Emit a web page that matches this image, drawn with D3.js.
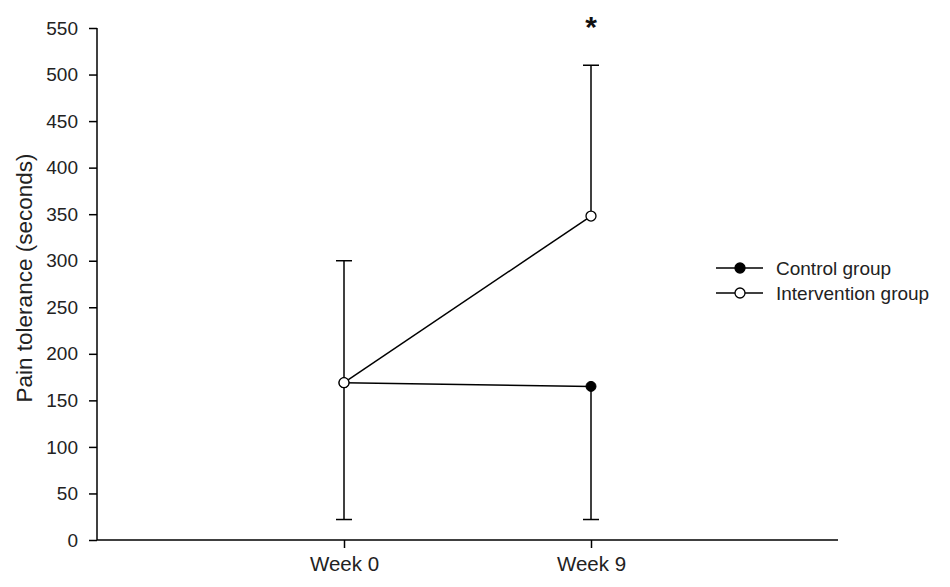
<!DOCTYPE html>
<html>
<head>
<meta charset="utf-8">
<script src="https://cdn.jsdelivr.net/npm/d3@7"></script>
<style>
  body { margin: 0; background: #fff; }
  svg { font-family: Arial, "Liberation Sans", sans-serif; }
</style>
</head>
<body>
<div id="chart"></div>
<script>
// data
var weeks = ["Week 0", "Week 9"];
var controlMean = [169, 165];
var controlLow = [22, 22];      // error bar drawn downward
var interventionMean = [169, 348];
var interventionHigh = [300, 510]; // error bar drawn upward
var yTicks = [0, 50, 100, 150, 200, 250, 300, 350, 400, 450, 500, 550];

var width = 950, height = 587;
var svg = d3.select("#chart").append("svg")
    .attr("width", width)
    .attr("height", height);

var x = d3.scaleLinear().domain([0, 3]).range([97, 838]);
var y = d3.scaleLinear().domain([0, 550]).range([540, 28]);

// y axis
var yAxis = d3.axisLeft(y).tickValues(yTicks).tickSize(8).tickPadding(11);
var gy = svg.append("g").attr("transform", "translate(97,0)").call(yAxis);
gy.select(".domain").attr("d", "M0," + y(0) + "V" + y(550)).attr("stroke-width", 1.5);
gy.selectAll(".tick line").attr("stroke-width", 1.5);
gy.selectAll("text").attr("font-size", 19).attr("fill", "#222");

// x axis
var xAxis = d3.axisBottom(x).tickValues([1, 2])
    .tickFormat(function (d) { return weeks[d - 1]; })
    .tickSize(8).tickPadding(8);
var gx = svg.append("g").attr("transform", "translate(0,540)").call(xAxis);
gx.select(".domain").attr("d", "M" + x(0) + ",0H" + x(3)).attr("stroke-width", 1.5);
gx.selectAll(".tick line").attr("stroke-width", 1.5);
gx.selectAll("text").attr("font-size", 20.5).attr("fill", "#222");

// y label
svg.append("text")
    .attr("transform", "translate(32,278) rotate(-90)")
    .attr("text-anchor", "middle")
    .attr("font-size", 22.5)
    .attr("fill", "#222")
    .text("Pain tolerance (seconds)");

var cap = 8;
function errorBar(i, from, to) {
    var cx = x(i + 1);
    svg.append("line")
        .attr("x1", cx).attr("x2", cx)
        .attr("y1", y(from)).attr("y2", y(to))
        .attr("stroke", "#000").attr("stroke-width", 1.5);
    svg.append("line")
        .attr("x1", cx - cap).attr("x2", cx + cap)
        .attr("y1", y(to)).attr("y2", y(to))
        .attr("stroke", "#000").attr("stroke-width", 1.5);
}

weeks.forEach(function (w, i) {
    errorBar(i, controlMean[i], controlLow[i]);
    errorBar(i, interventionMean[i], interventionHigh[i]);
});

var line = d3.line()
    .x(function (d, i) { return x(i + 1); })
    .y(function (d) { return y(d); });

svg.append("path").datum(controlMean)
    .attr("d", line).attr("fill", "none")
    .attr("stroke", "#000").attr("stroke-width", 1.5);
svg.append("path").datum(interventionMean)
    .attr("d", line).attr("fill", "none")
    .attr("stroke", "#000").attr("stroke-width", 1.5);

svg.append("g").selectAll("circle")
    .data(controlMean)
    .join("circle")
    .attr("cx", function (d, i) { return x(i + 1); })
    .attr("cy", function (d) { return y(d); })
    .attr("r", 5)
    .attr("fill", "#000")
    .attr("stroke", "#000");

svg.append("g").selectAll("circle")
    .data(interventionMean)
    .join("circle")
    .attr("cx", function (d, i) { return x(i + 1); })
    .attr("cy", function (d) { return y(d); })
    .attr("r", 5)
    .attr("fill", "#fff")
    .attr("stroke", "#000")
    .attr("stroke-width", 1.3);

// significance star
svg.append("text")
    .attr("x", x(2)).attr("y", 37)
    .attr("text-anchor", "middle")
    .attr("font-size", 30)
    .attr("font-weight", "bold")
    .attr("fill", "#111")
    .text("*");

// legend
var legend = [
    { name: "Control group", fill: "#000" },
    { name: "Intervention group", fill: "#fff" }
];
var lg = svg.append("g").selectAll("g")
    .data(legend)
    .join("g")
    .attr("transform", function (d, i) { return "translate(0," + (268 + i * 25) + ")"; });
lg.append("line")
    .attr("x1", 716).attr("x2", 763)
    .attr("stroke", "#000").attr("stroke-width", 1.5);
lg.append("circle")
    .attr("cx", 740).attr("r", 5)
    .attr("fill", function (d) { return d.fill; })
    .attr("stroke", "#000").attr("stroke-width", 1.3);
lg.append("text")
    .attr("x", 776).attr("dy", "0.35em")
    .attr("font-size", 19)
    .attr("fill", "#222")
    .text(function (d) { return d.name; });
</script>
</body>
</html>
